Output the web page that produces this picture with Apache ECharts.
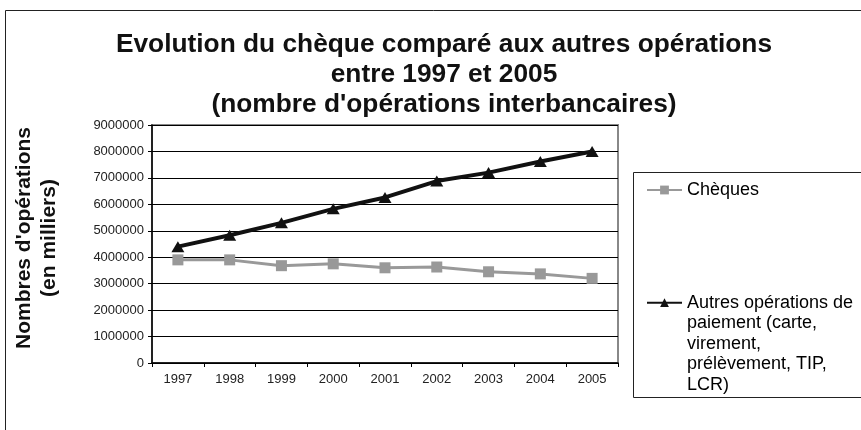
<!DOCTYPE html>
<html>
<head>
<meta charset="utf-8">
<script src="https://cdn.jsdelivr.net/npm/echarts@6/dist/echarts.min.js"></script>
<style>
  html, body { margin: 0; padding: 0; background: #fff; }
  #main { width: 861px; height: 430px; }
</style>
</head>
<body>
<div id="main"></div>
<script>
// données (nombre d'opérations, en milliers)
const years = ['1997', '1998', '1999', '2000', '2001', '2002', '2003', '2004', '2005'];
const cheques = [3900000, 3900000, 3680000, 3750000, 3600000, 3630000, 3450000, 3370000, 3200000];
const autres = [4400000, 4830000, 5300000, 5830000, 6260000, 6880000, 7200000, 7620000, 8000000];

const nameCheques = 'Chèques';
const nameAutres = 'Autres opérations de paiement (carte, virement, prélèvement, TIP, LCR)';
const autresLines = ['Autres opérations de', 'paiement (carte,', 'virement,', 'prélèvement, TIP,', 'LCR)'];

const font = 'Arial, "Liberation Sans", sans-serif';

const chart = echarts.init(document.getElementById('main'));

// lignes vides au-dessus pour que le symbole reste en face de la 1re ligne
const legendAutres = '\n\n\n\n' + autresLines.join('\n');

const option = {
    backgroundColor: '#fff',
    animation: false,
    title: {
        text: 'Evolution du chèque comparé aux autres opérations\nentre 1997 et 2005\n(nombre d\'opérations interbancaires)',
        left: 439,
        top: 25,
        textAlign: 'center',
        textStyle: {
            fontFamily: font,
            fontSize: 26.3,
            fontWeight: 'bold',
            color: '#111',
            lineHeight: 30
        }
    },
    graphic: [
        // cadre extérieur
        { type: 'rect', shape: { x: 5.5, y: 10.5, width: 900, height: 500 }, style: { fill: null, stroke: '#222', lineWidth: 1 }, z: -1 },
        // cadre de la légende
        { type: 'rect', shape: { x: 633.5, y: 172.5, width: 300, height: 225 }, style: { fill: '#fff', stroke: '#222', lineWidth: 1 }, z: 0 }
    ],
    legend: [
        {
            data: [nameCheques],
            left: 641,
            top: 176,
            itemWidth: 35,
            itemHeight: 11,
            textStyle: { fontFamily: font, fontSize: 18, color: '#000' },
            z: 5
        },
        {
            data: [nameAutres],
            left: 641,
            top: 205,
            itemWidth: 35,
            itemHeight: 11,
            formatter: () => legendAutres,
            textStyle: { fontFamily: font, fontSize: 18, color: '#000', lineHeight: 20.6 },
            z: 5
        }
    ],
    grid: {
        left: 152,
        top: 125,
        right: 243,
        bottom: 67,
        show: true,
        borderColor: '#888',
        borderWidth: 2,
        backgroundColor: '#fff'
    },
    xAxis: {
        type: 'category',
        data: years,
        boundaryGap: true,
        axisLine: { lineStyle: { color: '#000', width: 1.5 } },
        axisTick: { show: true, length: 4, lineStyle: { color: '#000' } },
        axisLabel: { fontFamily: font, fontSize: 13, color: '#222', margin: 10 }
    },
    yAxis: {
        type: 'value',
        min: 0,
        max: 9000000,
        interval: 1000000,
        name: 'Nombres d\'opérations\n(en milliers)',
        nameLocation: 'middle',
        nameRotate: 90,
        nameGap: 90,
        nameTextStyle: { fontFamily: font, fontSize: 21, fontWeight: 'bold', color: '#111', lineHeight: 25, padding: [0, 0, 0, 12] },
        axisLine: { show: true, lineStyle: { color: '#000', width: 1.5 } },
        axisTick: { show: true, length: 4, lineStyle: { color: '#000' } },
        axisLabel: { fontFamily: font, fontSize: 13, color: '#222', margin: 8, formatter: v => String(v) },
        splitLine: { show: true, lineStyle: { color: '#000', width: 1 } }
    },
    series: [
        {
            name: nameCheques,
            type: 'line',
            data: cheques,
            color: '#999',
            symbol: 'rect',
            symbolSize: 11,
            showAllSymbol: true,
            lineStyle: { width: 3, color: '#999' },
            itemStyle: { color: '#999' },
            z: 4
        },
        {
            name: nameAutres,
            type: 'line',
            data: autres,
            color: '#000',
            symbol: 'triangle',
            symbolSize: [13, 11],
            showAllSymbol: true,
            lineStyle: { width: 4, color: '#111' },
            itemStyle: { color: '#111' },
            z: 3
        }
    ]
};

chart.setOption(option);
</script>
</body>
</html>
